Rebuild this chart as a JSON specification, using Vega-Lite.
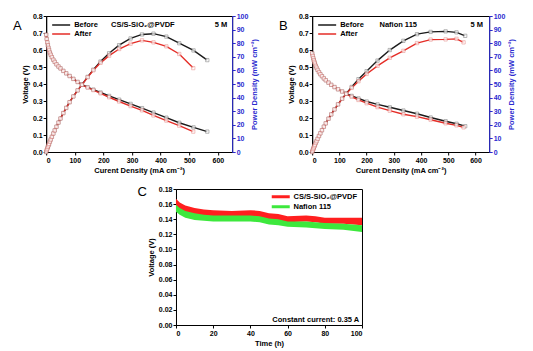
{
  "$schema": "https://vega.github.io/schema/vega-lite/v6.json",
  "padding": {"top": 11, "left": 12, "right": 5, "bottom": 5},
  "background": "white",
  "config": {
    "font": "Liberation Sans",
    "view": {"stroke": "black", "strokeWidth": 1},
    "axis": {"grid": false, "labelOverlap": false, "labelFont": "Liberation Sans", "labelFontSize": 7, "labelFontWeight": "bold", "labelColor": "black", "titleFont": "Liberation Sans", "titleFontSize": 7.5, "titleFontWeight": "bold", "titleColor": "black", "domainColor": "black", "tickColor": "black", "tickSize": 3, "labelPadding": 1, "titlePadding": 3, "domainWidth": 1, "tickWidth": 1},
    "legend": {"labelFont": "Liberation Sans", "labelFontSize": 7.5, "labelFontWeight": "bold", "labelColor": "black", "padding": 2, "rowPadding": 1, "symbolStrokeWidth": 1.5},
    "title": {"font": "Liberation Sans", "fontSize": 13, "fontWeight": "normal", "color": "black"},
    "text": {"font": "Liberation Sans"}
  },
  "datasets": {
    "polA": [
      {"I": 0, "V": 0.69, "P": 0, "s": "Before"},
      {"I": 2, "V": 0.665, "P": 1.33, "s": "Before"},
      {"I": 4, "V": 0.645, "P": 2.58, "s": "Before"},
      {"I": 6, "V": 0.628, "P": 3.77, "s": "Before"},
      {"I": 8, "V": 0.613, "P": 4.9, "s": "Before"},
      {"I": 10, "V": 0.6, "P": 6.0, "s": "Before"},
      {"I": 13, "V": 0.585, "P": 7.6, "s": "Before"},
      {"I": 16, "V": 0.572, "P": 9.15, "s": "Before"},
      {"I": 20, "V": 0.558, "P": 11.16, "s": "Before"},
      {"I": 25, "V": 0.543, "P": 13.58, "s": "Before"},
      {"I": 30, "V": 0.53, "P": 15.9, "s": "Before"},
      {"I": 36, "V": 0.516, "P": 18.58, "s": "Before"},
      {"I": 43, "V": 0.503, "P": 21.63, "s": "Before"},
      {"I": 50, "V": 0.492, "P": 24.6, "s": "Before"},
      {"I": 60, "V": 0.477, "P": 28.62, "s": "Before"},
      {"I": 70, "V": 0.463, "P": 32.41, "s": "Before"},
      {"I": 82, "V": 0.447, "P": 36.65, "s": "Before"},
      {"I": 95, "V": 0.43, "P": 40.85, "s": "Before"},
      {"I": 110, "V": 0.412, "P": 45.32, "s": "Before"},
      {"I": 125, "V": 0.396, "P": 49.5, "s": "Before"},
      {"I": 145, "V": 0.381, "P": 55.24, "s": "Before"},
      {"I": 165, "V": 0.367, "P": 60.56, "s": "Before"},
      {"I": 190, "V": 0.35, "P": 66.5, "s": "Before"},
      {"I": 220, "V": 0.33, "P": 72.6, "s": "Before"},
      {"I": 255, "V": 0.308, "P": 78.54, "s": "Before"},
      {"I": 295, "V": 0.283, "P": 83.49, "s": "Before"},
      {"I": 335, "V": 0.258, "P": 86.43, "s": "Before"},
      {"I": 375, "V": 0.232, "P": 87.0, "s": "Before"},
      {"I": 420, "V": 0.202, "P": 84.84, "s": "Before"},
      {"I": 465, "V": 0.172, "P": 79.98, "s": "Before"},
      {"I": 515, "V": 0.145, "P": 74.68, "s": "Before"},
      {"I": 563, "V": 0.12, "P": 67.56, "s": "Before"},
      {"I": 0, "V": 0.69, "P": 0, "s": "After"},
      {"I": 2, "V": 0.665, "P": 1.33, "s": "After"},
      {"I": 4, "V": 0.645, "P": 2.58, "s": "After"},
      {"I": 6, "V": 0.628, "P": 3.77, "s": "After"},
      {"I": 8, "V": 0.613, "P": 4.9, "s": "After"},
      {"I": 10, "V": 0.6, "P": 6.0, "s": "After"},
      {"I": 13, "V": 0.585, "P": 7.6, "s": "After"},
      {"I": 16, "V": 0.572, "P": 9.15, "s": "After"},
      {"I": 20, "V": 0.558, "P": 11.16, "s": "After"},
      {"I": 25, "V": 0.543, "P": 13.58, "s": "After"},
      {"I": 30, "V": 0.53, "P": 15.9, "s": "After"},
      {"I": 36, "V": 0.516, "P": 18.58, "s": "After"},
      {"I": 43, "V": 0.503, "P": 21.63, "s": "After"},
      {"I": 50, "V": 0.492, "P": 24.6, "s": "After"},
      {"I": 60, "V": 0.477, "P": 28.62, "s": "After"},
      {"I": 70, "V": 0.463, "P": 32.41, "s": "After"},
      {"I": 82, "V": 0.447, "P": 36.65, "s": "After"},
      {"I": 95, "V": 0.43, "P": 40.85, "s": "After"},
      {"I": 110, "V": 0.412, "P": 45.32, "s": "After"},
      {"I": 125, "V": 0.395, "P": 49.38, "s": "After"},
      {"I": 145, "V": 0.379, "P": 54.96, "s": "After"},
      {"I": 165, "V": 0.364, "P": 60.06, "s": "After"},
      {"I": 190, "V": 0.345, "P": 65.55, "s": "After"},
      {"I": 220, "V": 0.322, "P": 70.84, "s": "After"},
      {"I": 255, "V": 0.297, "P": 75.74, "s": "After"},
      {"I": 295, "V": 0.27, "P": 79.65, "s": "After"},
      {"I": 335, "V": 0.245, "P": 82.08, "s": "After"},
      {"I": 375, "V": 0.215, "P": 80.63, "s": "After"},
      {"I": 420, "V": 0.185, "P": 77.7, "s": "After"},
      {"I": 465, "V": 0.155, "P": 72.08, "s": "After"},
      {"I": 514, "V": 0.12, "P": 61.68, "s": "After"}
    ],
    "polB": [
      {"I": 0, "V": 0.58, "P": 0, "s": "Before"},
      {"I": 2, "V": 0.565, "P": 1.13, "s": "Before"},
      {"I": 4, "V": 0.552, "P": 2.21, "s": "Before"},
      {"I": 6, "V": 0.54, "P": 3.24, "s": "Before"},
      {"I": 8, "V": 0.53, "P": 4.24, "s": "Before"},
      {"I": 10, "V": 0.52, "P": 5.2, "s": "Before"},
      {"I": 13, "V": 0.507, "P": 6.59, "s": "Before"},
      {"I": 16, "V": 0.496, "P": 7.94, "s": "Before"},
      {"I": 20, "V": 0.483, "P": 9.66, "s": "Before"},
      {"I": 25, "V": 0.47, "P": 11.75, "s": "Before"},
      {"I": 30, "V": 0.458, "P": 13.74, "s": "Before"},
      {"I": 36, "V": 0.446, "P": 16.06, "s": "Before"},
      {"I": 43, "V": 0.433, "P": 18.62, "s": "Before"},
      {"I": 50, "V": 0.422, "P": 21.1, "s": "Before"},
      {"I": 60, "V": 0.408, "P": 24.48, "s": "Before"},
      {"I": 70, "V": 0.395, "P": 27.65, "s": "Before"},
      {"I": 82, "V": 0.382, "P": 31.32, "s": "Before"},
      {"I": 95, "V": 0.369, "P": 35.06, "s": "Before"},
      {"I": 110, "V": 0.356, "P": 39.16, "s": "Before"},
      {"I": 125, "V": 0.343, "P": 42.88, "s": "Before"},
      {"I": 145, "V": 0.33, "P": 47.85, "s": "Before"},
      {"I": 170, "V": 0.315, "P": 53.55, "s": "Before"},
      {"I": 200, "V": 0.297, "P": 59.4, "s": "Before"},
      {"I": 240, "V": 0.28, "P": 67.2, "s": "Before"},
      {"I": 285, "V": 0.263, "P": 74.96, "s": "Before"},
      {"I": 335, "V": 0.244, "P": 81.74, "s": "Before"},
      {"I": 385, "V": 0.225, "P": 86.63, "s": "Before"},
      {"I": 435, "V": 0.203, "P": 88.31, "s": "Before"},
      {"I": 490, "V": 0.181, "P": 88.69, "s": "Before"},
      {"I": 530, "V": 0.166, "P": 87.98, "s": "Before"},
      {"I": 562, "V": 0.152, "P": 85.42, "s": "Before"},
      {"I": 0, "V": 0.58, "P": 0, "s": "After"},
      {"I": 2, "V": 0.565, "P": 1.13, "s": "After"},
      {"I": 4, "V": 0.552, "P": 2.21, "s": "After"},
      {"I": 6, "V": 0.54, "P": 3.24, "s": "After"},
      {"I": 8, "V": 0.53, "P": 4.24, "s": "After"},
      {"I": 10, "V": 0.52, "P": 5.2, "s": "After"},
      {"I": 13, "V": 0.507, "P": 6.59, "s": "After"},
      {"I": 16, "V": 0.496, "P": 7.94, "s": "After"},
      {"I": 20, "V": 0.483, "P": 9.66, "s": "After"},
      {"I": 25, "V": 0.47, "P": 11.75, "s": "After"},
      {"I": 30, "V": 0.458, "P": 13.74, "s": "After"},
      {"I": 36, "V": 0.446, "P": 16.06, "s": "After"},
      {"I": 43, "V": 0.433, "P": 18.62, "s": "After"},
      {"I": 50, "V": 0.422, "P": 21.1, "s": "After"},
      {"I": 60, "V": 0.408, "P": 24.48, "s": "After"},
      {"I": 70, "V": 0.395, "P": 27.65, "s": "After"},
      {"I": 82, "V": 0.382, "P": 31.32, "s": "After"},
      {"I": 95, "V": 0.369, "P": 35.06, "s": "After"},
      {"I": 110, "V": 0.356, "P": 39.16, "s": "After"},
      {"I": 125, "V": 0.342, "P": 42.75, "s": "After"},
      {"I": 145, "V": 0.325, "P": 47.13, "s": "After"},
      {"I": 170, "V": 0.306, "P": 52.02, "s": "After"},
      {"I": 200, "V": 0.287, "P": 57.4, "s": "After"},
      {"I": 240, "V": 0.264, "P": 63.36, "s": "After"},
      {"I": 285, "V": 0.243, "P": 69.26, "s": "After"},
      {"I": 335, "V": 0.222, "P": 74.37, "s": "After"},
      {"I": 385, "V": 0.208, "P": 80.08, "s": "After"},
      {"I": 435, "V": 0.19, "P": 82.65, "s": "After"},
      {"I": 490, "V": 0.169, "P": 82.81, "s": "After"},
      {"I": 530, "V": 0.157, "P": 83.21, "s": "After"},
      {"I": 556, "V": 0.145, "P": 80.62, "s": "After"}
    ],
    "stab": [
      {"t": 0, "m": "CS/S-SiO₂@PVDF", "hi": 0.167, "lo": 0.157},
      {"t": 2, "m": "CS/S-SiO₂@PVDF", "hi": 0.162, "lo": 0.152},
      {"t": 5, "m": "CS/S-SiO₂@PVDF", "hi": 0.158, "lo": 0.148},
      {"t": 10, "m": "CS/S-SiO₂@PVDF", "hi": 0.155, "lo": 0.146},
      {"t": 15, "m": "CS/S-SiO₂@PVDF", "hi": 0.153, "lo": 0.145},
      {"t": 20, "m": "CS/S-SiO₂@PVDF", "hi": 0.152, "lo": 0.144},
      {"t": 30, "m": "CS/S-SiO₂@PVDF", "hi": 0.151, "lo": 0.143},
      {"t": 40, "m": "CS/S-SiO₂@PVDF", "hi": 0.152, "lo": 0.144},
      {"t": 45, "m": "CS/S-SiO₂@PVDF", "hi": 0.151, "lo": 0.143},
      {"t": 50, "m": "CS/S-SiO₂@PVDF", "hi": 0.148, "lo": 0.14},
      {"t": 55, "m": "CS/S-SiO₂@PVDF", "hi": 0.147, "lo": 0.139},
      {"t": 60, "m": "CS/S-SiO₂@PVDF", "hi": 0.144, "lo": 0.136},
      {"t": 70, "m": "CS/S-SiO₂@PVDF", "hi": 0.145, "lo": 0.137},
      {"t": 75, "m": "CS/S-SiO₂@PVDF", "hi": 0.144, "lo": 0.136},
      {"t": 80, "m": "CS/S-SiO₂@PVDF", "hi": 0.142, "lo": 0.134},
      {"t": 90, "m": "CS/S-SiO₂@PVDF", "hi": 0.142, "lo": 0.134},
      {"t": 100, "m": "CS/S-SiO₂@PVDF", "hi": 0.142, "lo": 0.132},
      {"t": 0, "m": "Nafion 115", "hi": 0.159, "lo": 0.15},
      {"t": 2, "m": "Nafion 115", "hi": 0.155, "lo": 0.146},
      {"t": 5, "m": "Nafion 115", "hi": 0.151, "lo": 0.142},
      {"t": 10, "m": "Nafion 115", "hi": 0.148, "lo": 0.139},
      {"t": 15, "m": "Nafion 115", "hi": 0.146, "lo": 0.138},
      {"t": 20, "m": "Nafion 115", "hi": 0.145, "lo": 0.137},
      {"t": 30, "m": "Nafion 115", "hi": 0.145, "lo": 0.137},
      {"t": 40, "m": "Nafion 115", "hi": 0.145, "lo": 0.137},
      {"t": 45, "m": "Nafion 115", "hi": 0.144, "lo": 0.136},
      {"t": 50, "m": "Nafion 115", "hi": 0.141, "lo": 0.133},
      {"t": 55, "m": "Nafion 115", "hi": 0.14, "lo": 0.132},
      {"t": 60, "m": "Nafion 115", "hi": 0.137, "lo": 0.13},
      {"t": 70, "m": "Nafion 115", "hi": 0.137, "lo": 0.129},
      {"t": 80, "m": "Nafion 115", "hi": 0.135, "lo": 0.127},
      {"t": 90, "m": "Nafion 115", "hi": 0.134, "lo": 0.126},
      {"t": 100, "m": "Nafion 115", "hi": 0.132, "lo": 0.123}
    ]
  },
  "vconcat": [
    {
      "hconcat": [
        {
          "width": 186, "height": 136,
          "title": {"text": "A", "orient": "left", "anchor": "end", "angle": 0, "baseline": "top", "offset": 2, "dx": 11, "dy": 8},
          "data": {"name": "polA"},
          "layer": [
            {
              "layer": [
                {"mark": {"type": "line", "strokeWidth": 1.4},
                 "encoding": {
                   "x": {"field": "I", "type": "quantitative", "scale": {"domain": [0, 650], "nice": false, "zero": false}, "axis": {"values": [0, 100, 200, 300, 400, 500, 600], "tickCount": 30, "labelOverlap": false, "title": "Curent Density (mA cm⁻²)"}},
                   "y": {"field": "V", "type": "quantitative", "scale": {"domain": [0, 0.8], "nice": false}, "axis": {"values": [0, 0.1, 0.2, 0.3, 0.4, 0.5, 0.6, 0.7, 0.8], "tickCount": 30, "labelOverlap": false, "format": ".1f", "title": "Voltage (V)"}},
                   "color": {"field": "s", "type": "nominal", "scale": {"domain": ["Before", "After"], "range": ["#1a1a1a", "#e52d27"]}, "legend": {"title": null, "orient": "top-left", "offset": 3, "padding": 2, "rowPadding": 1, "symbolType": "M -1 0 H 5", "symbolSize": 36, "labelOffset": 15}}
                 }},
                {"mark": {"type": "point", "shape": "square", "filled": true, "fill": "white", "size": 11, "strokeWidth": 0.6},
                 "encoding": {
                   "x": {"field": "I", "type": "quantitative", "scale": {"domain": [0, 650], "nice": false, "zero": false}},
                   "y": {"field": "V", "type": "quantitative", "scale": {"domain": [0, 0.8], "nice": false}},
                   "stroke": {"field": "s", "type": "nominal", "scale": {"domain": ["Before", "After"], "range": ["#555555", "#e06a64"]}, "legend": null}
                 }},
                {"data": {"values": [{"I": 338, "V": 0.745, "t": "CS/S-SiO₂@PVDF"}, {"I": 611, "V": 0.745, "t": "5 M"}]},
                 "mark": {"type": "text", "fontWeight": "bold", "fontSize": 7.5, "color": "black"},
                 "encoding": {
                   "x": {"field": "I", "type": "quantitative", "scale": {"domain": [0, 650], "nice": false, "zero": false}},
                   "y": {"field": "V", "type": "quantitative", "scale": {"domain": [0, 0.8], "nice": false}},
                   "text": {"field": "t"}
                 }}
              ]
            },
            {
              "layer": [
                {"mark": {"type": "line", "strokeWidth": 1.4},
                 "encoding": {
                   "x": {"field": "I", "type": "quantitative", "scale": {"domain": [0, 650], "nice": false, "zero": false}},
                   "y": {"field": "P", "type": "quantitative", "scale": {"domain": [0, 100], "nice": false}, "axis": {"orient": "right", "values": [0, 10, 20, 30, 40, 50, 60, 70, 80, 90, 100], "tickCount": 30, "labelOverlap": false, "title": "Power Density (mW cm⁻²)", "titleAngle": 270, "titleBaseline": "top", "domainColor": "#2a2acf", "tickColor": "#2a2acf", "labelColor": "#2a2acf", "titleColor": "#2a2acf"}},
                   "color": {"field": "s", "type": "nominal", "scale": {"domain": ["Before", "After"], "range": ["#1a1a1a", "#e52d27"]}}
                 }},
                {"mark": {"type": "point", "shape": "square", "filled": true, "fill": "white", "size": 11, "strokeWidth": 0.6},
                 "encoding": {
                   "x": {"field": "I", "type": "quantitative", "scale": {"domain": [0, 650], "nice": false, "zero": false}},
                   "y": {"field": "P", "type": "quantitative", "scale": {"domain": [0, 100], "nice": false}},
                   "stroke": {"field": "s", "type": "nominal", "scale": {"domain": ["Before", "After"], "range": ["#555555", "#e06a64"]}, "legend": null}
                 }}
              ]
            }
          ],
          "resolve": {"scale": {"y": "independent"}}
        },
        {
          "width": 177, "height": 136,
          "title": {"text": "B", "orient": "left", "anchor": "end", "angle": 0, "baseline": "top", "offset": 2, "dx": 11, "dy": 8},
          "data": {"name": "polB"},
          "layer": [
            {
              "layer": [
                {"mark": {"type": "line", "strokeWidth": 1.4},
                 "encoding": {
                   "x": {"field": "I", "type": "quantitative", "scale": {"domain": [0, 650], "nice": false, "zero": false}, "axis": {"values": [0, 100, 200, 300, 400, 500, 600], "tickCount": 30, "labelOverlap": false, "title": "Curent Density (mA cm⁻²)"}},
                   "y": {"field": "V", "type": "quantitative", "scale": {"domain": [0, 0.8], "nice": false}, "axis": {"values": [0, 0.1, 0.2, 0.3, 0.4, 0.5, 0.6, 0.7, 0.8], "tickCount": 30, "labelOverlap": false, "format": ".1f", "title": "Voltage (V)"}},
                   "color": {"field": "s", "type": "nominal", "scale": {"domain": ["Before", "After"], "range": ["#1a1a1a", "#e52d27"]}, "legend": {"title": null, "orient": "top-left", "offset": 3, "padding": 2, "rowPadding": 1, "symbolType": "M -1 0 H 5", "symbolSize": 36, "labelOffset": 15}}
                 }},
                {"mark": {"type": "point", "shape": "square", "filled": true, "fill": "white", "size": 11, "strokeWidth": 0.6},
                 "encoding": {
                   "x": {"field": "I", "type": "quantitative", "scale": {"domain": [0, 650], "nice": false, "zero": false}},
                   "y": {"field": "V", "type": "quantitative", "scale": {"domain": [0, 0.8], "nice": false}},
                   "stroke": {"field": "s", "type": "nominal", "scale": {"domain": ["Before", "After"], "range": ["#555555", "#e06a64"]}, "legend": null}
                 }},
                {"data": {"values": [{"I": 316, "V": 0.745, "t": "Nafion 115"}, {"I": 604, "V": 0.745, "t": "5 M"}]},
                 "mark": {"type": "text", "fontWeight": "bold", "fontSize": 7.5, "color": "black"},
                 "encoding": {
                   "x": {"field": "I", "type": "quantitative", "scale": {"domain": [0, 650], "nice": false, "zero": false}},
                   "y": {"field": "V", "type": "quantitative", "scale": {"domain": [0, 0.8], "nice": false}},
                   "text": {"field": "t"}
                 }}
              ]
            },
            {
              "layer": [
                {"mark": {"type": "line", "strokeWidth": 1.4},
                 "encoding": {
                   "x": {"field": "I", "type": "quantitative", "scale": {"domain": [0, 650], "nice": false, "zero": false}},
                   "y": {"field": "P", "type": "quantitative", "scale": {"domain": [0, 100], "nice": false}, "axis": {"orient": "right", "values": [0, 10, 20, 30, 40, 50, 60, 70, 80, 90, 100], "tickCount": 30, "labelOverlap": false, "title": "Power Density (mW cm⁻²)", "titleAngle": 270, "titleBaseline": "top", "domainColor": "#2a2acf", "tickColor": "#2a2acf", "labelColor": "#2a2acf", "titleColor": "#2a2acf"}},
                   "color": {"field": "s", "type": "nominal", "scale": {"domain": ["Before", "After"], "range": ["#1a1a1a", "#e52d27"]}}
                 }},
                {"mark": {"type": "point", "shape": "square", "filled": true, "fill": "white", "size": 11, "strokeWidth": 0.6},
                 "encoding": {
                   "x": {"field": "I", "type": "quantitative", "scale": {"domain": [0, 650], "nice": false, "zero": false}},
                   "y": {"field": "P", "type": "quantitative", "scale": {"domain": [0, 100], "nice": false}},
                   "stroke": {"field": "s", "type": "nominal", "scale": {"domain": ["Before", "After"], "range": ["#555555", "#e06a64"]}, "legend": null}
                 }}
              ]
            }
          ],
          "resolve": {"scale": {"y": "independent"}}
        }
      ],
      "spacing": 19,
      "resolve": {"scale": {"color": "independent", "stroke": "independent"}, "legend": {"color": "independent"}}
    },
    {
      "width": 186, "height": 136,
      "title": {"text": "C", "orient": "left", "anchor": "end", "angle": 0, "baseline": "top", "offset": 2, "dx": 11, "dy": 1},
      "data": {"name": "stab"},
      "layer": [
        {"mark": {"type": "area", "opacity": 1},
         "encoding": {
           "x": {"field": "t", "type": "quantitative", "scale": {"domain": [0, 100], "nice": false}, "axis": {"values": [0, 20, 40, 60, 80, 100], "tickCount": 30, "labelOverlap": false, "title": "Time (h)"}},
           "y": {"field": "hi", "type": "quantitative", "scale": {"domain": [0, 0.18], "nice": false}, "axis": {"values": [0, 0.02, 0.04, 0.06, 0.08, 0.1, 0.12, 0.14, 0.16, 0.18], "tickCount": 30, "labelOverlap": false, "format": ".2f", "title": "Voltage (V)"}},
           "y2": {"field": "lo"},
           "color": {"field": "m", "type": "nominal", "scale": {"domain": ["CS/S-SiO₂@PVDF", "Nafion 115"], "range": ["#ff1f1f", "#3de83d"]}, "legend": {"title": null, "orient": "top-right", "offset": 2, "padding": 2, "rowPadding": 1, "symbolType": "M -1 -0.5 H 5 V 0.5 H -1 Z", "symbolSize": 36, "labelOffset": 15, "symbolStrokeWidth": 0}}
         }},
        {"data": {"values": [{"t": 98.5, "hi": 0.007, "txt": "Constant current: 0.35 A"}]},
         "mark": {"type": "text", "align": "right", "fontWeight": "bold", "fontSize": 7.5, "color": "black"},
         "encoding": {
           "x": {"field": "t", "type": "quantitative", "scale": {"domain": [0, 100], "nice": false}},
           "y": {"field": "hi", "type": "quantitative", "scale": {"domain": [0, 0.18], "nice": false}, "axis": {"orient": "right", "values": [0.18], "tickCount": 30, "labelOpacity": 0, "ticks": false, "domain": false, "labelPadding": 6, "title": null}},
           "text": {"field": "txt"}
         }}
      ],
      "resolve": {"axis": {"y": "independent"}}
    }
  ],
  "spacing": 10,
  "center": true,
  "resolve": {"scale": {"color": "independent", "stroke": "independent"}, "legend": {"color": "independent"}}
}
